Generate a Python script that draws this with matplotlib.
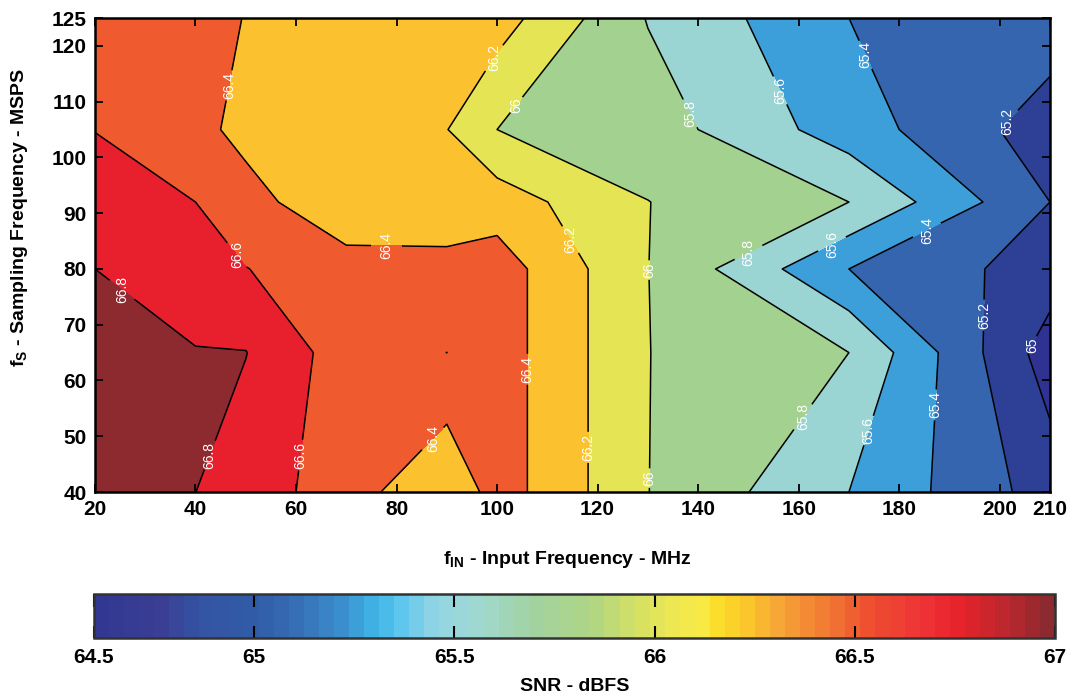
import numpy as np
import matplotlib
matplotlib.use("Agg")
import matplotlib.pyplot as plt
from matplotlib.colors import LinearSegmentedColormap, Normalize
from matplotlib.cm import ScalarMappable

plt.rcParams['font.family'] = ['Liberation Sans', 'DejaVu Sans']
plt.rcParams['mathtext.fontset'] = 'custom'
plt.rcParams['mathtext.rm'] = 'Liberation Sans'
plt.rcParams['mathtext.bf'] = 'Liberation Sans:bold'

# measurement grid: input frequency (MHz) x sampling frequency (MSPS)
fin = [20, 40, 50, 70, 90, 100, 130, 170, 210]
fs = [40, 65, 80, 92, 105, 125]

# SNR (dBFS), one row per sampling frequency
snr_40 = [66.95, 66.801, 66.70, 66.50, 66.21, 66.50, 66.003, 65.60, 65.108]
snr_65 = [66.95, 66.81, 66.805, 66.50, 66.6005, 66.50, 66.003, 65.80, 64.90]
snr_80 = [66.80, 66.68, 66.605, 66.48, 66.45, 66.50, 66.003, 65.40, 65.104]
snr_92 = [66.72, 66.60, 66.47, 66.255, 66.30, 66.30, 66.003, 65.80, 65.20]
snr_105 = [66.595, 66.455, 66.345, 66.28, 66.205, 66.00, 65.90, 65.50, 65.10]
snr_125 = [66.50, 66.46, 66.395, 66.36, 66.31, 66.29, 65.79, 65.40, 65.31]

line_levels = [65.0, 65.2, 65.4, 65.6, 65.8, 66.0, 66.2, 66.4, 66.6, 66.8]
fill_levels = [64.5] + line_levels + [67.2]
fill_colors = ['#2f3290', '#2e4095', '#3465ae', '#3d9fd9', '#9ad5d3', '#a3d18f',
               '#e4e455', '#fbc12e', '#f05a2f', '#e81f2d', '#8c2a2f']

# colour scale of the SNR bar
bar_vals = [64.6, 64.75, 64.85, 65.0, 65.1, 65.2, 65.3, 65.37, 65.45, 65.55, 65.7, 65.85,
            65.95, 66.05, 66.12, 66.17, 66.25, 66.33, 66.45, 66.55, 66.68, 66.78, 66.88, 67.0]
bar_cols = ['#323791', '#3a3f94', '#3453a3', '#315ca8', '#3670b6', '#3b8acb', '#3fb6e7',
            '#63c9ee', '#93d5e4', '#9fd8d2', '#a2d3a0', '#b0d683', '#d3e065', '#ede752',
            '#f8ea48', '#fcdc26', '#fac22d', '#f6a138', '#f07632', '#ee4d30', '#ee3436',
            '#e6212a', '#c1272d', '#8c2a2f']
bar_ticks = [64.6, 65, 65.5, 66, 66.5, 67]
bar_ticklabels = ['64.5', '65', '65.5', '66', '66.5', '67']

x_ticks = [20, 40, 60, 80, 100, 120, 140, 160, 180, 200, 210]
y_ticks = [40, 50, 60, 70, 80, 90, 100, 110, 120, 125]

Z = np.array([snr_40, snr_65, snr_80, snr_92, snr_105, snr_125])
X, Y = np.meshgrid(fin, fs)

fig = plt.figure(figsize=(10.79, 6.96), dpi=100)
ax = fig.add_axes([0.0880, 0.2931, 0.8851, 0.6810])

ax.contourf(X, Y, Z, levels=fill_levels, colors=fill_colors)
cs = ax.contour(X, Y, Z, levels=line_levels, colors='black', linewidths=1.1)
ax.set_xlim(20, 210)
ax.set_ylim(40, 125)

label_pos = [(46.7, 112.9), (48.2, 82.5), (78, 84.2), (25.4, 76.3), (42.8, 46.6),
             (60.9, 46.6), (87.3, 49.5), (99.8, 117.6), (103.9, 109.4), (114.5, 85.2),
             (105.9, 62), (117.9, 48), (130, 79.8), (130, 42.5), (138.4, 107.9),
             (150, 83), (160.8, 53.5), (156.5, 112.1), (166.6, 84.5), (174, 51),
             (173.3, 118.4), (185.5, 87), (187.5, 55.6), (202, 106), (197, 71.7),
             (206.4, 66.4)]
texts = ax.clabel(cs, manual=label_pos, inline=True, inline_spacing=2, fontsize=10,
                  colors='white', fmt=lambda v: f'{v:g}')
for t in texts:
    t.set_rotation(90)

ax.set_xticks(x_ticks)
ax.set_yticks(y_ticks)
ax.tick_params(direction='in', length=6, width=1.3, top=True, right=True, labelsize=15, pad=6)
for lab in ax.get_xticklabels() + ax.get_yticklabels():
    lab.set_fontweight('bold')
for s in ax.spines.values():
    s.set_linewidth(1.8)
ax.set_xlabel(r'$\mathbf{f_{IN}}$ - Input Frequency - MHz', fontsize=14, fontweight='bold')
ax.xaxis.set_label_coords(0.495, -0.12)
ax.set_ylabel(r'$\mathbf{f_{S}}$ - Sampling Frequency - MSPS', fontsize=14, fontweight='bold')
ax.yaxis.set_label_coords(-0.068, 0.58)

cax = fig.add_axes([0.0871, 0.0829, 0.8906, 0.0632])
bar_cmap = LinearSegmentedColormap.from_list(
    'snr', [((v - bar_vals[0]) / (bar_vals[-1] - bar_vals[0]), c) for v, c in zip(bar_vals, bar_cols)], N=64)
sm = ScalarMappable(norm=Normalize(bar_vals[0], bar_vals[-1]), cmap=bar_cmap)
cb = fig.colorbar(sm, cax=cax, orientation='horizontal')
cb.set_ticks(bar_ticks, labels=bar_ticklabels)
cb.outline.set_linewidth(1.8)
cb.outline.set_edgecolor('#333333')
cax.tick_params(axis='x', direction='in', length=9, width=1.5, top=True, bottom=True,
                labelsize=15, pad=7)
for lab in cax.get_xticklabels():
    lab.set_fontweight('bold')
cb.set_label('SNR - dBFS', fontsize=14, fontweight='bold', labelpad=8)

fig.savefig('out.png', dpi=100)
